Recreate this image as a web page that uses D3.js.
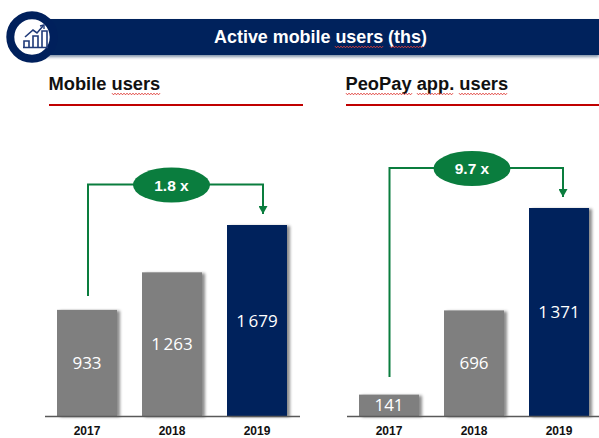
<!DOCTYPE html>
<html><head><meta charset="utf-8">
<script src="https://cdn.jsdelivr.net/npm/d3@7/dist/d3.min.js"></script>
<style>html,body{margin:0;padding:0;background:#fff;overflow:hidden}svg{display:block}</style>
</head><body><svg id="c" width="599" height="438"></svg>
<script>
const years = ["2017","2018","2019"];
const mobileUsers = [933,1263,1679];
const peopayUsers = [141,696,1371];
const valueLabelsMobile = ["933","1 263","1 679"];
const valueLabelsPeopay = ["141","696","1 371"];
const mainTitle = "Active mobile users (ths)";
const mobileTitle = "Mobile users";
const peopayTitle = "PeoPay app. users";
const mobileMultiple = "1.8 x";
const peopayMultiple = "9.7 x";

const NAVY="#00205c", GREY="#7f7f7f", GREEN="#0a7d3e", RED="#c00000", AXIS="#595959";
const svg=d3.select("#c");
const defs=svg.append("defs");
const f=defs.append("filter").attr("id","sh").attr("x","-20%").attr("y","-20%").attr("width","150%").attr("height","140%");
f.append("feDropShadow").attr("dx",3).attr("dy",1).attr("stdDeviation",1.6).attr("flood-color","#000").attr("flood-opacity",.45);
const f2=defs.append("filter").attr("id","bsh").attr("x","-5%").attr("y","-20%").attr("width","110%").attr("height","160%");
f2.append("feDropShadow").attr("dx",0).attr("dy",2).attr("stdDeviation",1.5).attr("flood-color","#001a50").attr("flood-opacity",.5);
const m=defs.append("marker").attr("id","ah").attr("markerUnits","userSpaceOnUse").attr("markerWidth",10).attr("markerHeight",9)
 .attr("refX",4.5).attr("refY",8).attr("orient",0);
m.append("path").attr("d","M0,0L9,0L4.5,8Z").attr("fill",GREEN);

const FONT="'Liberation Sans',Arial,sans-serif";
function wavy(x0,x1,y){
  let p=[];for(let x=x0,i=0;x<=x1;x+=1.5,i++)p.push([x,y+(i%2?1:-1)*.8]);
  svg.append("path").attr("d",d3.line()(p)).attr("fill","none").attr("stroke","#e0403a").attr("stroke-width",1);
}
// banner
svg.append("rect").attr("x",40).attr("y",19).attr("width",559).attr("height",36).attr("fill",NAVY).attr("filter","url(#bsh)");
svg.append("text").attr("x",320.5).attr("y",42.5).attr("text-anchor","middle").attr("fill","#fff")
 .attr("font-family",FONT).attr("font-weight","bold").attr("font-size",17.9).text(mainTitle);
wavy(335,384,47);wavy(390,423,47);
// icon
svg.append("circle").attr("cx",32).attr("cy",37).attr("r",21.7).attr("fill","#fff").attr("stroke",NAVY).attr("stroke-width",8);
const ic=svg.append("g").attr("fill","none").attr("stroke","#1f3a78").attr("stroke-width",1.6);
ic.append("path").attr("d","M24,47V41H29V47M33,47V36H38V47M42,47V31H47V47M23,47.5H48");
ic.append("path").attr("d","M25,37L33,30L37,33L43,26");
ic.append("path").attr("d","M40,26L44,25L44,29").attr("stroke-width",1.4);

function panel(cfg){
  const g=svg.append("g");
  g.append("text").attr("x",cfg.tx).attr("y",89.5).attr("font-family",FONT).attr("font-weight","bold")
   .attr("font-size",18.3).attr("fill","#111").text(cfg.title);
  g.append("rect").attr("x",cfg.lx0).attr("y",104).attr("width",cfg.lx1-cfg.lx0).attr("height",2).attr("fill",RED);
  const x=d3.scaleBand().domain(years).range([cfg.x0,cfg.x0+255]).paddingInner(25/85).paddingOuter(25/170);
  const y=d3.scaleLinear().domain([0,cfg.max]).range([416,cfg.top]);
  g.selectAll("rect.b").data(cfg.values).join("rect").attr("class","b")
   .attr("x",(d,i)=>x(years[i])).attr("width",x.bandwidth())
   .attr("y",d=>y(d)).attr("height",d=>416-y(d))
   .attr("fill",(d,i)=>i===2?NAVY:GREY).attr("filter","url(#sh)");
  g.selectAll("text.v").data(cfg.values).join("text").attr("class","v")
   .attr("x",(d,i)=>x(years[i])+x.bandwidth()/2)
   .attr("y",(d,i)=>cfg.labelY[i]).attr("text-anchor","middle").attr("fill","#fff")
   .attr("font-family","'Open Sans',sans-serif").attr("font-size",17).attr("font-weight",500)
   .attr("word-spacing",-2).text((d,i)=>cfg.labels[i]);
  const ax=g.append("g").attr("transform","translate(0,416)").call(d3.axisBottom(x).tickSize(0).tickPadding(10.5));
  ax.select(".domain").attr("stroke",AXIS).attr("stroke-width",1.6);
  ax.selectAll("text").attr("font-family",FONT).attr("font-weight","bold").attr("font-size",12).attr("fill","#111");
  // bracket
  const b=cfg.bracket;
  g.append("path").attr("d",`M${b.x0},${b.y0}V${b.y}H${b.x1}V${b.y1}`).attr("fill","none")
   .attr("stroke",GREEN).attr("stroke-width",2).attr("marker-end","url(#ah)");
  g.append("ellipse").attr("cx",b.ex).attr("cy",b.y+.5).attr("rx",38.5).attr("ry",17.5).attr("fill",GREEN);
  g.append("text").attr("x",b.ex).attr("y",b.y+6).attr("text-anchor","middle").attr("fill","#fff")
   .attr("font-family",FONT).attr("font-weight","bold").attr("font-size",15.5).text(cfg.mult);
}
panel({x0:44.5,tx:48.5,lx0:49,lx1:303,title:mobileTitle,values:mobileUsers,labels:valueLabelsMobile,max:1679,top:225,
  labelY:[369,350,327],mult:mobileMultiple,bracket:{x0:88,y0:296,y:184.5,x1:263,y1:214,ex:171.5}});
panel({x0:346.5,tx:345.5,lx0:346,lx1:599,title:peopayTitle,values:peopayUsers,labels:valueLabelsPeopay,max:1371,top:208,
  labelY:[411,369,318],mult:peopayMultiple,bracket:{x0:389.5,y0:377,y:168,x1:563,y1:197,ex:472}});
wavy(112,161,94);wavy(346,413,94);wavy(417,453,94);wavy(459,507,94);
</script></body></html>
